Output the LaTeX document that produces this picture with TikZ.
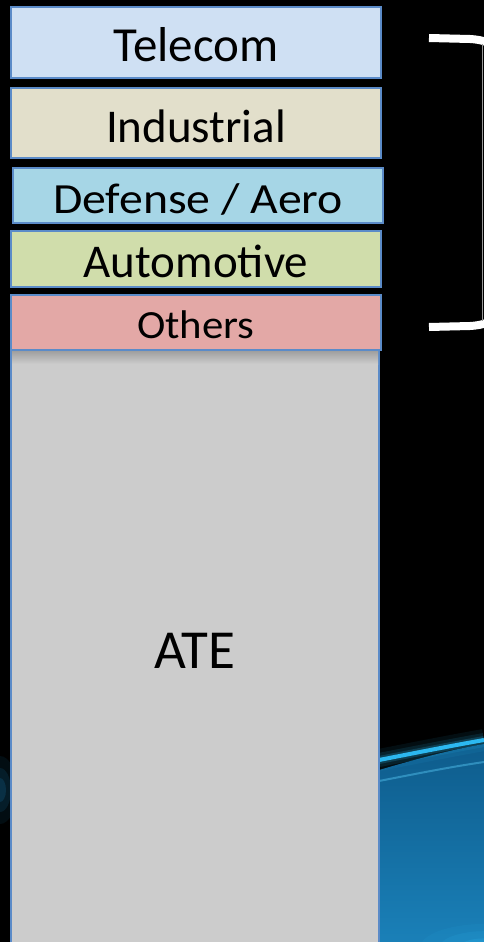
\documentclass[tikz,border=0pt]{standalone}
\usepackage{fontspec}
\setmainfont{Carlito}
\definecolor{bordc}{HTML}{5B8BC8}
\definecolor{ctele}{HTML}{CFE0F3}
\definecolor{cind}{HTML}{E2DFCB}
\definecolor{cdef}{HTML}{A6D6E6}
\definecolor{cauto}{HTML}{D0DDAB}
\definecolor{coth}{HTML}{E3A8A6}
\definecolor{cate}{HTML}{CCCCCC}
\definecolor{glowA}{HTML}{2CB8F0}
\definecolor{deepA}{HTML}{0E5C8C}
\definecolor{deepB}{HTML}{0A2E48}
\definecolor{deepC}{HTML}{1A80B8}
\tikzset{
  segbox/.style={draw=bordc, line width=2pt, inner sep=0pt, outer sep=0pt},
  seglabel/.style={anchor=base, inner sep=0pt, text=black},
}
\begin{document}
\begin{tikzpicture}[x=1pt,y=-1pt]
\useasboundingbox (0,0) rectangle (484,942);
\fill[black] (0,0) rectangle (484,942);
% background glow, right
\begin{scope}
\clip (379,690) rectangle (484,942);
\shade[top color=deepA, middle color=deepB, bottom color=deepC]
  (379,770) .. controls (420,758) and (450,750) .. (484,744) -- (484,942) -- (379,942) -- cycle;
\foreach \w/\o in {22/0.08,14/0.12,8/0.2}{
  \draw[glowA, line width=\w pt, opacity=\o] (379,760) .. controls (420,752) and (450,746) .. (484,740);
}
\draw[glowA, line width=4pt] (379,760) .. controls (420,752) and (450,746) .. (484,740);
\draw[glowA!80!white, line width=2pt, opacity=0.45] (379,781) .. controls (420,773) and (450,767) .. (484,762);
\foreach \r/\o in {40/0.08,28/0.12,16/0.2}{
  \fill[glowA, opacity=\o] (484,948) ellipse ({\r*1.6} and \r*0.6);
}
\end{scope}
% background glow, left
\begin{scope}
\clip (0,690) rectangle (11,942);
\foreach \r/\o in {34/0.1,22/0.14,12/0.2}{
  \fill[deepC, opacity=\o] (0,790) ellipse (\r*0.5 and \r);
}
\end{scope}
% ATE
\node[segbox, fill=cate, minimum width=368pt, minimum height=620pt] (ate) at (195,660) {};
\shade[top color=gray!75, bottom color=cate] (12,351) rectangle (378,364);
\node[seglabel, font=\fontsize{55}{55}\selectfont] (atel) at (195,668) {ATE};
% segments
\node[segbox, fill=ctele, minimum width=370pt, minimum height=71pt] (tele) at (196,42.5) {};
\node[seglabel, font=\fontsize{49}{49}\selectfont] (telel) at (196,62) {Telecom};
\node[segbox, fill=cind, minimum width=370pt, minimum height=70.5pt] (ind) at (196,123.2) {};
\node[seglabel, font=\fontsize{47}{47}\selectfont] (indl) at (196,142) {Industrial};
\node[segbox, fill=cdef, minimum width=370pt, minimum height=55pt] (def) at (198,195) {};
\node[seglabel, font=\fontsize{43}{43}\selectfont] (defl) at (198,213) {\scalebox{1.11}[1]{Defense / Aero}};
\node[segbox, fill=cauto, minimum width=370pt, minimum height=55.5pt] (auto) at (196,258.8) {};
\node[seglabel, font=\fontsize{47}{47}\selectfont] (autol) at (196,277) {Automotive};
\node[segbox, fill=coth, minimum width=370pt, minimum height=55pt] (oth) at (196,322.5) {};
\node[seglabel, font=\fontsize{40}{40}\selectfont] (othl) at (196,338) {\scalebox{1.07}[1]{Others}};
% bracket
\draw[white, line width=8pt] (429,38) -- (470,39) .. controls (478,39.5) and (482,40.5) .. (486,42);
\draw[white, line width=8pt] (429,327) -- (470,326) .. controls (478,325.5) and (482,324.5) .. (486,323);
\draw[gray!80, line width=1pt] (482.5,44) -- (482.5,321);
\end{tikzpicture}
\end{document}
